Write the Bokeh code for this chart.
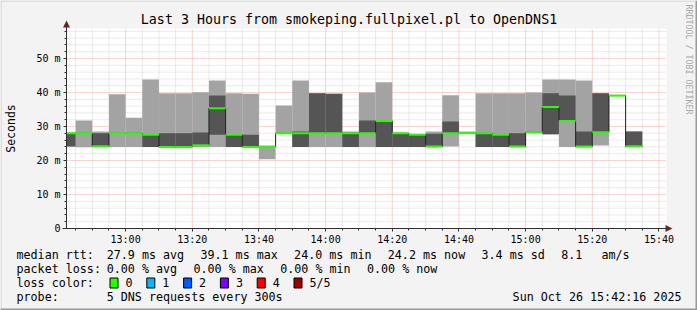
import math
from bokeh.plotting import figure
from bokeh.models import FixedTicker, Range1d
from bokeh.core.properties import value
from bokeh.embed import file_html
from bokeh.resources import INLINE

# ---------------- data ----------------
title_text = "Last 3 Hours from smokeping.fullpixel.pl to OpenDNS1"
graph_start = "12:42:16"
graph_end = "15:42:16"
step_minutes = 5

slot_start = ["12:40", "12:45", "12:50", "12:55", "13:00", "13:05", "13:10",
              "13:15", "13:20", "13:25", "13:30", "13:35", "13:40", "13:45",
              "13:50", "13:55", "14:00", "14:05", "14:10", "14:15", "14:20",
              "14:25", "14:30", "14:35", "14:40", "14:45", "14:50", "14:55",
              "15:00", "15:05", "15:10", "15:15", "15:20", "15:25", "15:30"]
# sorted pings per slot (ms)
ping1 = [24.1, 23.9, 24.0, 24.0, 24.0, 24.0, 24.0, 24.0, 24.0, 24.0, 24.0, 24.0,
         20.4, 27.9, 24.0, 24.0, 24.0, 24.0, 24.0, 24.0, 24.0, 24.0, 24.0, 24.1,
         27.8, 24.0, 24.0, 24.0, 28.3, 27.6, 24.0, 24.0, 24.4, 38.9, 24.0]
ping2 = [24.1, 28.0, 24.1, 28.0, 28.0, 24.0, 24.0, 24.0, 24.5, 27.6, 24.0, 24.0,
         24.1, 28.0, 24.0, 28.0, 28.0, 24.0, 27.9, 24.0, 24.0, 24.0, 24.0, 28.0,
         28.1, 24.0, 24.0, 24.0, 28.3, 27.8, 31.3, 24.0, 28.3, 39.1, 24.0]
median = [28.0, 28.0, 24.2, 28.0, 28.0, 27.6, 24.0, 24.0, 24.5, 35.4, 27.6, 24.0,
          24.1, 28.0, 28.0, 28.0, 28.0, 28.0, 28.0, 31.6, 28.0, 27.6, 24.1, 28.0,
          28.1, 28.0, 27.6, 24.1, 28.3, 35.7, 31.6, 24.1, 28.3, 39.1, 24.2]
ping4 = [28.0, 28.0, 28.0, 28.0, 28.0, 27.6, 28.0, 28.0, 28.2, 39.1, 27.6, 27.6,
         24.1, 28.0, 28.5, 39.8, 39.6, 28.0, 31.8, 31.6, 28.0, 27.6, 27.9, 31.5,
         28.1, 28.0, 27.6, 28.0, 28.3, 39.8, 39.1, 28.5, 39.8, 39.1, 28.5]
ping5 = [28.0, 31.8, 28.5, 39.5, 32.6, 43.8, 39.8, 39.8, 40.1, 43.5, 39.8, 39.6,
         24.1, 36.2, 43.5, 39.8, 39.6, 28.5, 40.0, 43.0, 28.0, 27.6, 28.5, 39.2,
         28.5, 39.8, 39.8, 39.8, 40.0, 43.8, 43.8, 43.5, 39.8, 39.3, 28.5]

y_top_ms = 58.82
y_ticks = [0, 10, 20, 30, 40, 50]
y_tick_labels = ["0", "10 m", "20 m", "30 m", "40 m", "50 m"]
x_tick_labels = ["13:00", "13:20", "13:40", "14:00", "14:20", "14:40",
                 "15:00", "15:20", "15:40"]
y_axis_title = "Seconds"

rtt_title = "median rtt:"
rtt_items = ["27.9 ms avg", "39.1 ms max", "24.0 ms min", "24.2 ms now",
             "3.4 ms sd", "8.1", "am/s"]
loss_title_row = "packet loss:"
loss_items = ["0.00 % avg", "0.00 % max", "0.00 % min", "0.00 % now"]
loss_title = "loss color:"
loss_labels = ["0", "1", "2", "3", "4", "5/5"]
loss_colors = ["#26ff00", "#00b8ff", "#0059ff", "#7e00ff", "#ff0000", "#a00000"]
probe_left = "probe:"
probe_text = "5 DNS requests every 300s"
stamp_text = "Sun Oct 26 15:42:16 2025"
side_text = "RRDTOOL / TOBI OETIKER"


def to_min(s):
    parts = [int(v) for v in s.split(":")]
    while len(parts) < 3:
        parts.append(0)
    return parts[0] * 60 + parts[1] + parts[2] / 60.0


# ---------------- layout constants (canvas pixels) ----------------
W, H = 697, 310
FL, FB = 66, 228            # plot-area left / bottom
PX_PER_MIN = 600 / 180.0
PX_PER_MS = 3.4
MONO = "DejaVu Sans Mono"
BG = "#f3f3f3"
SMOKE_LIGHT = "#a3a3a3"
SMOKE_DARK = "#555555"
ARROW = "#7f1f1f"
AXIS = "#303030"
MINOR_GRID = "#d4d4d4"
MAJOR_GRID = "#f0a8a8"
LEG_FONT = "11.7px"

x0, x1 = to_min(graph_start), to_min(graph_end)


def cx(px):     # canvas x -> minutes
    return x0 + (px - FL) / PX_PER_MIN


def cy(py):     # canvas y -> ms
    return (FB - py) / PX_PER_MS


p = figure(width=W, height=H, output_backend="svg", toolbar_location=None,
           x_range=Range1d(cx(0), cx(W)), y_range=Range1d(cy(H), cy(0)),
           min_border=0, min_border_left=0, min_border_right=0,
           min_border_top=0, min_border_bottom=0,
           background_fill_color=BG, border_fill_color=BG,
           outline_line_color=None)
p.grid.visible = False

# ----- plot area and grid -----
x_ticks = [int(round(to_min(t))) for t in x_tick_labels]
x_minor = [m for m in range(int(round(to_min(slot_start[1]))), int(x1) + 1, step_minutes)
           if m not in x_ticks]
y_minor = [v for v in range(2, int(y_top_ms) + 1, 2) if v not in y_ticks]

p.quad(left=[x0], right=[x1], bottom=[0], top=[y_top_ms],
       fill_color="white", line_color=None)
p.segment(x0=x_minor, x1=x_minor, y0=[0] * len(x_minor), y1=[y_top_ms] * len(x_minor),
          line_color=MINOR_GRID, line_dash="1 1", line_width=1)
p.segment(x0=[x0] * len(y_minor), x1=[x1] * len(y_minor), y0=y_minor, y1=y_minor,
          line_color=MINOR_GRID, line_dash="1 1", line_width=1)
p.segment(x0=x_ticks, x1=x_ticks, y0=[0] * len(x_ticks), y1=[y_top_ms] * len(x_ticks),
          line_color=MAJOR_GRID, line_dash="1 1", line_width=1)
ymaj = [v for v in y_ticks if v > 0]
p.segment(x0=[x0] * len(ymaj), x1=[x1] * len(ymaj), y0=ymaj, y1=ymaj,
          line_color=MAJOR_GRID, line_dash="1 1", line_width=1)

# ----- smoke -----
lefts = [max(to_min(s), x0) for s in slot_start]
rights = [to_min(s) + step_minutes for s in slot_start]
p.quad(left=lefts, right=rights, bottom=ping1, top=ping5,
       fill_color=SMOKE_LIGHT, line_color=None)
p.quad(left=lefts, right=rights, bottom=ping2, top=ping4,
       fill_color=SMOKE_DARK, line_color=None)
p.step(x=lefts + [rights[-1]], y=median + [median[-1]], mode="after",
       line_color="#202020", line_width=1)
p.segment(x0=lefts, x1=rights, y0=median, y1=median,
          line_color=loss_colors[0], line_width=2)

# ----- axes, pinned to the plot-area edges -----
xax, yax = p.xaxis[0], p.yaxis[0]
xax.fixed_location = 0
yax.fixed_location = x0
xax.ticker = FixedTicker(ticks=x_ticks, minor_ticks=x_minor)
yax.ticker = FixedTicker(ticks=y_ticks, minor_ticks=y_minor)
xax.major_label_overrides = {t: lab for t, lab in zip(x_ticks, x_tick_labels)}
yax.major_label_overrides = {t: lab for t, lab in zip(y_ticks, y_tick_labels)}
xax.bounds = (cx(62), cx(667))
yax.bounds = (0, cy(24))
for ax in (xax, yax):
    ax.axis_line_color = AXIS
    ax.major_tick_line_color = AXIS
    ax.minor_tick_line_color = AXIS
    ax.major_tick_in = 0
    ax.minor_tick_in = 0
    ax.major_tick_out = 3
    ax.minor_tick_out = 2
    ax.major_label_text_font = MONO
    ax.major_label_text_font_size = "10px"
    ax.major_label_text_color = "black"
    ax.major_label_standoff = 3
xax.major_label_standoff = 2

# ----- arrows -----
p.patch(x=[cx(62.5), cx(69.5), cx(66)], y=[cy(27), cy(27), cy(20)],
        fill_color=ARROW, line_color=None)
p.patch(x=[cx(665), cx(665), cx(672)], y=[cy(224.5), cy(231.5), cy(228)],
        fill_color=ARROW, line_color=None)


# ----- texts -----
def txt(items, size, align="left", color="black", angle=0.0):
    p.text(x=[cx(a) for a, b, t in items], y=[cy(b) for a, b, t in items],
           text=[t for a, b, t in items], text_align=align, text_baseline="middle",
           text_font=value(MONO), text_font_size=value(size),
           text_color=color, angle=angle)


txt([(W / 2, 19, title_text)], "13.3px", align="center")
txt([(688, 4, side_text)], "8.3px", color="#a8a8a8", angle=-math.pi / 2)
txt([(10, 128, y_axis_title)], "11.5px", align="center", angle=math.pi / 2)

CW = 6.94    # legend character width
GAP = 17.35  # gap between legend items
VAL_X = 16 + 13 * CW
rows = [(16, 254, rtt_title)]
xp = VAL_X
for item in rtt_items[:5]:
    rows.append((xp, 254, item))
    xp += len(item) * CW + GAP
rows.append((xp, 254, rtt_items[5]))
rows.append((601, 254, rtt_items[6]))
rows.append((16, 268, loss_title_row))
xp = VAL_X
for item in loss_items:
    rows.append((xp, 268, item))
    xp += len(item) * CW + GAP
rows.append((16, 282, loss_title))
box_l = [109.5 + i * 36.8 for i in range(len(loss_labels))]
for bl, lab in zip(box_l, loss_labels):
    rows.append((bl + 15.5, 282, lab))
rows += [(16, 296, probe_left), (VAL_X, 296, probe_text)]
txt(rows, LEG_FONT)
txt([(681, 296, stamp_text)], LEG_FONT, align="right")

p.quad(left=[cx(b) for b in box_l], right=[cx(b + 8) for b in box_l],
       top=[cy(277.5)] * len(box_l), bottom=[cy(287.5)] * len(box_l),
       fill_color=loss_colors, line_color="black", line_width=1)

# ----- window bevel -----
p.quad(left=[cx(0), cx(0)], right=[cx(W), cx(1)], top=[cy(0), cy(0)],
       bottom=[cy(1), cy(H)], fill_color="#cbcbcb", line_color=None)
p.quad(left=[cx(0), cx(W - 2)], right=[cx(W), cx(W)], top=[cy(H - 2), cy(0)],
       bottom=[cy(H), cy(H)], fill_color="#999999", line_color=None)

open("out.html", "w").write(file_html(p, INLINE))
